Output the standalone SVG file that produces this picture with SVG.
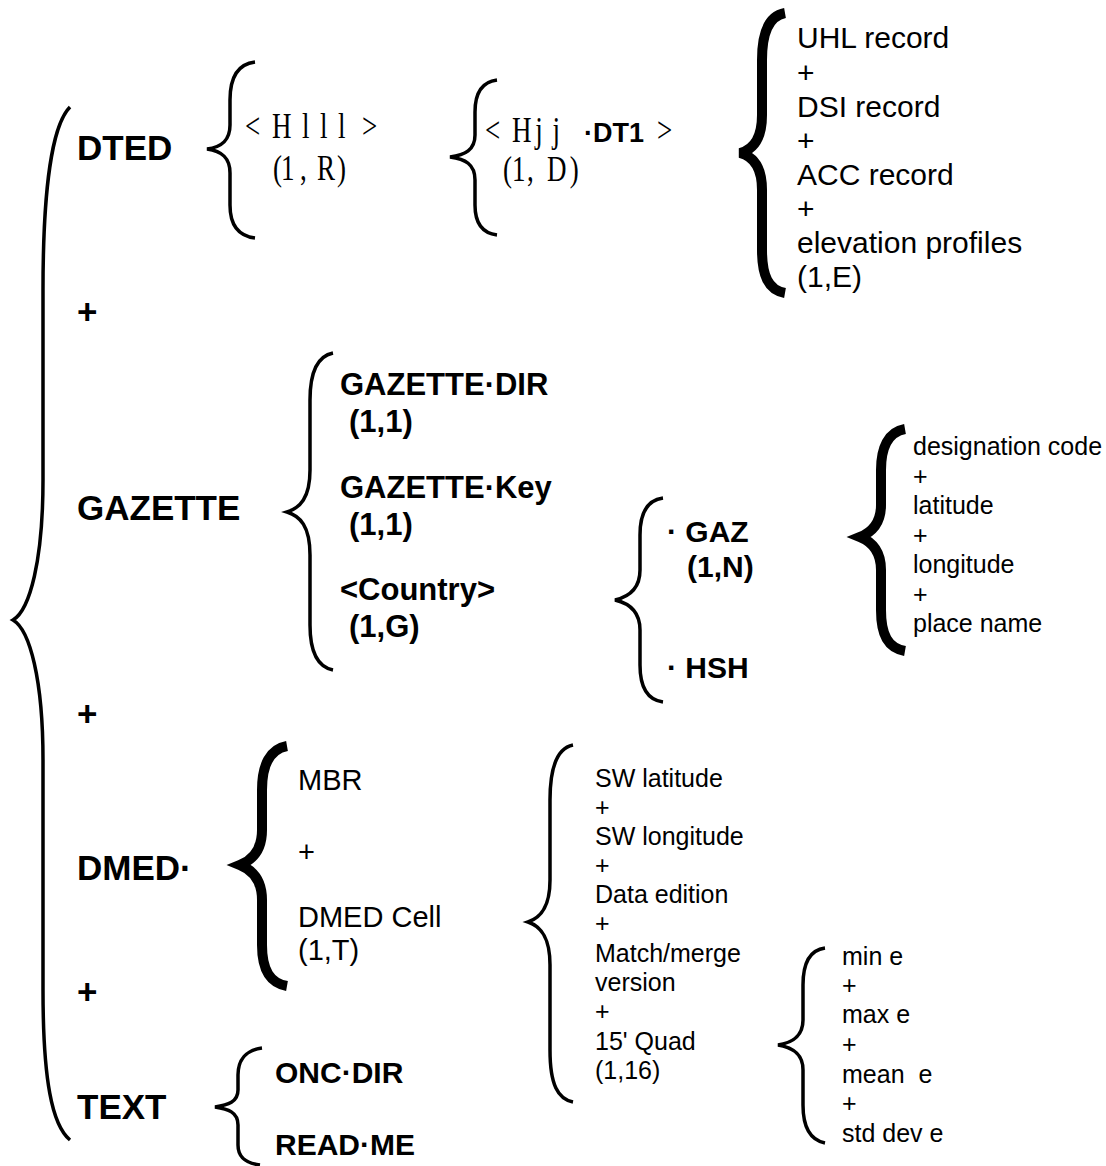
<svg xmlns="http://www.w3.org/2000/svg" width="1106" height="1166" viewBox="0 0 1106 1166">
<style>
text{font-family:"Liberation Sans",Arial,sans-serif;fill:#000}
.b{font-weight:bold}
.t35{font-size:35px;font-weight:bold}
.t31{font-size:31px;font-weight:bold}
.t30{font-size:30px}
.t29{font-size:29px}
.t25{font-size:25px}
.serif{font-family:"Liberation Serif","Times New Roman",serif;font-size:36px}
.br{fill:none;stroke:#000;stroke-width:3.5;stroke-linecap:butt;stroke-linejoin:miter}
.thick{stroke-width:10}
</style>
<rect width="1106" height="1166" fill="#fff"/>
<g id="connectors">
<path class="br" d="M70,107 C52,125 43,190 43,290 L43,480 C43,560 30,610 13,620 C30,630 43,680 43,760 L43,990 C43,1080 52,1125 70,1140"/>
<path class="br" d="M255,62 C238,64 230,78 230,100 L230,125 C230,140 222,147 207,149 C222,151 230,158 230,173 L230,205 C230,225 238,236 255,238"/>
<path class="br" d="M497,80 C481,82 475,95 475,112 L475,135 C475,150 465,155 450,157 C465,159 475,164 475,180 L475,205 C475,222 481,233 497,235"/>
<path class="br thick" d="M785,13 C768,16 762,35 762,60 L762,115 C762,140 752,150 740,153 C752,156 762,166 762,190 L762,250 C762,275 768,290 785,293"/>
<path class="br" d="M333,353 C318,356 310,372 310,400 L310,470 C310,498 300,508 287,512 C300,516 310,526 310,555 L310,625 C310,652 318,667 333,670"/>
<path class="br" d="M663,498 C648,500 640,512 640,535 L640,570 C640,590 628,597 615,600 C628,603 640,610 640,630 L640,665 C640,688 648,700 663,702"/>
<path class="br thick" d="M905,429 C888,432 881,448 881,470 L881,505 C881,525 870,533 860,537 C870,541 881,550 881,570 L881,610 C881,635 888,648 905,651"/>
<path class="br thick" d="M287,746 C270,749 262,765 262,790 L262,830 C262,852 250,861 240,865 C250,869 262,878 262,900 L262,945 C262,970 270,983 287,986"/>
<path class="br" d="M573,745 C558,748 550,765 550,800 L550,880 C550,908 540,918 528,922 C540,926 550,936 550,965 L550,1050 C550,1085 558,1099 573,1102"/>
<path class="br" d="M825,948 C810,950 803,962 803,985 L803,1020 C803,1038 790,1043 778,1045 C790,1047 803,1052 803,1070 L803,1105 C803,1128 810,1140 825,1143"/>
<path class="br" d="M262,1048 C246,1050 238,1060 238,1075 L238,1090 C238,1102 228,1105 215,1107 C228,1109 238,1112 238,1125 L238,1145 C238,1157 245,1163 260,1165"/>
</g>
<g id="top">
<text class="t35" x="77" y="160">DTED</text>
<text class="t35" x="77" y="324">+</text>
<text class="t35" x="77" y="520">GAZETTE</text>
<text class="t35" x="77" y="726">+</text>
<text class="t35" x="77" y="880">DMED·</text>
<text class="t35" x="77" y="1004">+</text>
<text class="t35" x="77" y="1119">TEXT</text>
</g>
<g id="hlll">
<text class="serif" transform="translate(245,138) scale(0.75,1)" x="0 22.7 36 76 100 124 140 156" y="0">&lt; Hlll &gt;</text>
<text class="serif" transform="translate(273,180) scale(0.75,1)" x="0 10.7 36 49 58.7 85.3" y="0">(1, R)</text>
</g>
<g id="hjj">
<text class="serif" transform="translate(485,142) scale(0.75,1)" x="0 20 36 67 90" y="0">&lt; Hjj</text>
<text class="b" style="font-size:27px" x="584" y="142">·DT1</text>
<text class="serif" transform="translate(657,142) scale(0.75,1)" x="0" y="0">&gt;</text>
<text class="serif" transform="translate(503,181) scale(0.75,1)" x="0 12 32 45 58.7 89" y="0">(1, D)</text>
</g>
<g id="dt1-records">
<text class="t30" x="797" y="48">UHL record</text>
<text class="t30" x="797" y="82.5">+</text>
<text class="t30" x="797" y="117">DSI record</text>
<text class="t30" x="797" y="151">+</text>
<text class="t30" x="797" y="185">ACC record</text>
<text class="t30" x="797" y="219">+</text>
<text class="t30" x="797" y="253">elevation profiles</text>
<text class="t30" x="797" y="287">(1,E)</text>
</g>
<g id="gazette-items">
<text class="t31" x="340" y="395">GAZETTE·DIR</text>
<text class="t31" x="349" y="432">(1,1)</text>
<text class="t31" x="340" y="498">GAZETTE·Key</text>
<text class="t31" x="349" y="535">(1,1)</text>
<text class="t31" x="340" y="600">&lt;Country&gt;</text>
<text class="t31" x="349" y="637">(1,G)</text>
</g>
<g id="country-items">
<text class="b" style="font-size:30px" x="667" y="542">· GAZ</text>
<text class="b" style="font-size:30px" x="687" y="577">(1,N)</text>
<text class="b" style="font-size:30px" x="667" y="678">· HSH</text>
</g>
<g id="gaz-fields">
<text class="t25" x="913" y="455">designation code</text>
<text class="t25" x="913" y="484.5">+</text>
<text class="t25" x="913" y="514">latitude</text>
<text class="t25" x="913" y="543.5">+</text>
<text class="t25" x="913" y="573">longitude</text>
<text class="t25" x="913" y="602.5">+</text>
<text class="t25" x="913" y="632">place name</text>
</g>
<g id="dmed-items">
<text class="t29" x="298" y="790">MBR</text>
<text class="t29" x="298" y="862">+</text>
<text class="t29" x="298" y="927">DMED Cell</text>
<text class="t29" x="298" y="960">(1,T)</text>
</g>
<g id="mbr-fields">
<text class="t25" x="595" y="787">SW latitude</text>
<text class="t25" x="595" y="816">+</text>
<text class="t25" x="595" y="845">SW longitude</text>
<text class="t25" x="595" y="874">+</text>
<text class="t25" x="595" y="903">Data edition</text>
<text class="t25" x="595" y="932">+</text>
<text class="t25" x="595" y="962">Match/merge</text>
<text class="t25" x="595" y="991">version</text>
<text class="t25" x="595" y="1020">+</text>
<text class="t25" x="595" y="1050">15' Quad</text>
<text class="t25" x="595" y="1079">(1,16)</text>
</g>
<g id="quad-fields">
<text class="t25" x="842" y="965">min e</text>
<text class="t25" x="842" y="994">+</text>
<text class="t25" x="842" y="1023">max e</text>
<text class="t25" x="842" y="1053">+</text>
<text class="t25" x="842" y="1083" xml:space="preserve">mean  e</text>
<text class="t25" x="842" y="1112">+</text>
<text class="t25" x="842" y="1142">std dev e</text>
</g>
<g id="text-items">
<text class="b" style="font-size:30px" x="275" y="1083">ONC·DIR</text>
<text class="b" style="font-size:30px" x="275" y="1155">READ·ME</text>
</g>
</svg>
